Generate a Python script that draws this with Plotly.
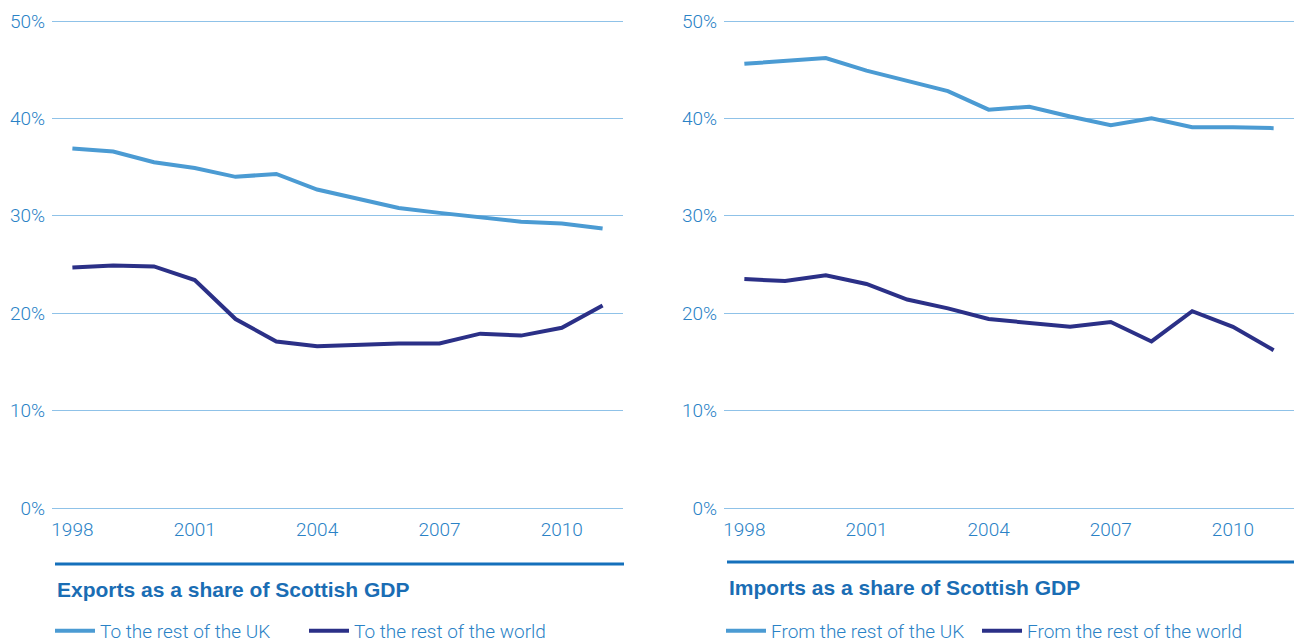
import plotly.graph_objects as go

# Years covered by both panels
years = list(range(1998, 2012))

# Exports as a share of Scottish GDP (%)
exports_ruk = [36.9, 36.6, 35.5, 34.9, 34.0, 34.3, 32.7, 31.7, 30.8, 30.3, 29.8, 29.4, 29.2, 28.7]
exports_row = [24.7, 24.9, 24.8, 23.4, 19.4, 17.1, 16.6, 16.8, 16.9, 16.9, 17.9, 17.7, 18.5, 20.8]

# Imports as a share of Scottish GDP (%)
imports_ruk = [45.6, 45.9, 46.2, 44.9, 43.9, 42.8, 40.9, 41.2, 40.2, 39.3, 40.0, 39.1, 39.1, 39.0]
imports_row = [23.5, 23.3, 23.9, 23.0, 21.4, 20.5, 19.4, 19.0, 18.6, 19.1, 17.1, 20.2, 18.6, 16.2]

x_ticks = [1998, 2001, 2004, 2007, 2010]
y_ticks = [0, 10, 20, 30, 40, 50]
y_tick_labels = ["0%", "10%", "20%", "30%", "40%", "50%"]

panel_titles = ["Exports as a share of Scottish GDP", "Imports as a share of Scottish GDP"]
series_names = [
    ["To the rest of the UK", "To the rest of the world"],
    ["From the rest of the UK", "From the rest of the world"],
]

W, H = 1294, 642
LIGHT = "#4b9bd3"
DARK = "#2b3087"
TEXT = "#2a82c6"
TITLE = "#1a6db4"
GRID = "#8fc2e8"
FONT = "Roboto"


def px_x(p):
    return p / W


def px_y(p):
    # pixel offset from the top -> paper fraction from the bottom
    return 1 - p / H


fig = go.Figure()

# first legend entry of each panel gets a fixed width so the second entry lines up
first_entry_width = [199, 201]

panels = [
    (exports_ruk, exports_row, "x", "y", "legend"),
    (imports_ruk, imports_row, "x2", "y2", "legend2"),
]
for i, (ruk, row, xa, ya, lg) in enumerate(panels):
    fig.add_trace(go.Scatter(x=years, y=ruk, mode="lines", name=series_names[i][0],
                             line=dict(color=LIGHT, width=4), xaxis=xa, yaxis=ya, legend=lg,
                             legendwidth=first_entry_width[i]))
    fig.add_trace(go.Scatter(x=years, y=row, mode="lines", name=series_names[i][1],
                             line=dict(color=DARK, width=4), xaxis=xa, yaxis=ya, legend=lg))

# y range padded half a point each side so the 0% and 50% gridlines are not clipped
y_lo, y_hi = -0.5, 50.5
top_px, bot_px = 21, 508          # pixel rows of 50% and 0%
unit = (bot_px - top_px) / 50
ydom = [px_y(bot_px + 0.5 * unit), px_y(top_px - 0.5 * unit)]

tick_font = dict(family=FONT, size=19, color=TEXT, weight=300)
legend_font = dict(family=FONT, size=19, color=TEXT, weight=300)

xaxis_common = dict(range=[1997.5, 2011.5], tickvals=x_ticks, ticktext=[str(v) for v in x_ticks],
                    showgrid=False, zeroline=False, showline=False, ticks="",
                    tickfont=tick_font, ticklabelstandoff=3, fixedrange=True)
yaxis_common = dict(range=[y_lo, y_hi], tickvals=y_ticks, ticktext=y_tick_labels,
                    showgrid=True, gridcolor=GRID, gridwidth=1, zeroline=False, showline=False,
                    ticks="", tickfont=tick_font, ticklabelstandoff=6, fixedrange=True)

fig.update_layout(
    width=W, height=H,
    margin=dict(l=0, r=0, t=0, b=0, autoexpand=False),
    paper_bgcolor="white", plot_bgcolor="white",
    xaxis=dict(domain=[px_x(52), px_x(623)], anchor="y", **xaxis_common),
    yaxis=dict(domain=ydom, anchor="x", **yaxis_common),
    xaxis2=dict(domain=[px_x(724), 1.0], anchor="y2", **xaxis_common),
    yaxis2=dict(domain=ydom, anchor="x2", **yaxis_common),
    legend=dict(orientation="h", x=px_x(50), xanchor="left", y=px_y(631), yanchor="middle",
                font=legend_font, itemwidth=40, bgcolor="rgba(0,0,0,0)",
                itemclick=False, itemdoubleclick=False),
    legend2=dict(orientation="h", x=px_x(721), xanchor="left", y=px_y(631), yanchor="middle",
                 font=legend_font, itemwidth=40, bgcolor="rgba(0,0,0,0)",
                 itemclick=False, itemdoubleclick=False),
    showlegend=True,
)

# Heavy rule above each panel title, and the titles themselves
rules = [(55, 624, 564), (727, 1294, 562)]
title_pos = [(55, 589), (727, 587)]
for (x0, x1, yr), (tx, ty), title in zip(rules, title_pos, panel_titles):
    fig.add_shape(type="line", xref="paper", yref="paper",
                  x0=px_x(x0), x1=px_x(x1), y0=px_y(yr), y1=px_y(yr),
                  line=dict(color="#1570bb", width=3))
    fig.add_annotation(text=title, xref="paper", yref="paper", x=px_x(tx), y=px_y(ty),
                       xanchor="left", yanchor="middle", showarrow=False,
                       font=dict(family="Liberation Sans", size=21, color=TITLE, weight="bold"))

fig.write_html("out.html")
